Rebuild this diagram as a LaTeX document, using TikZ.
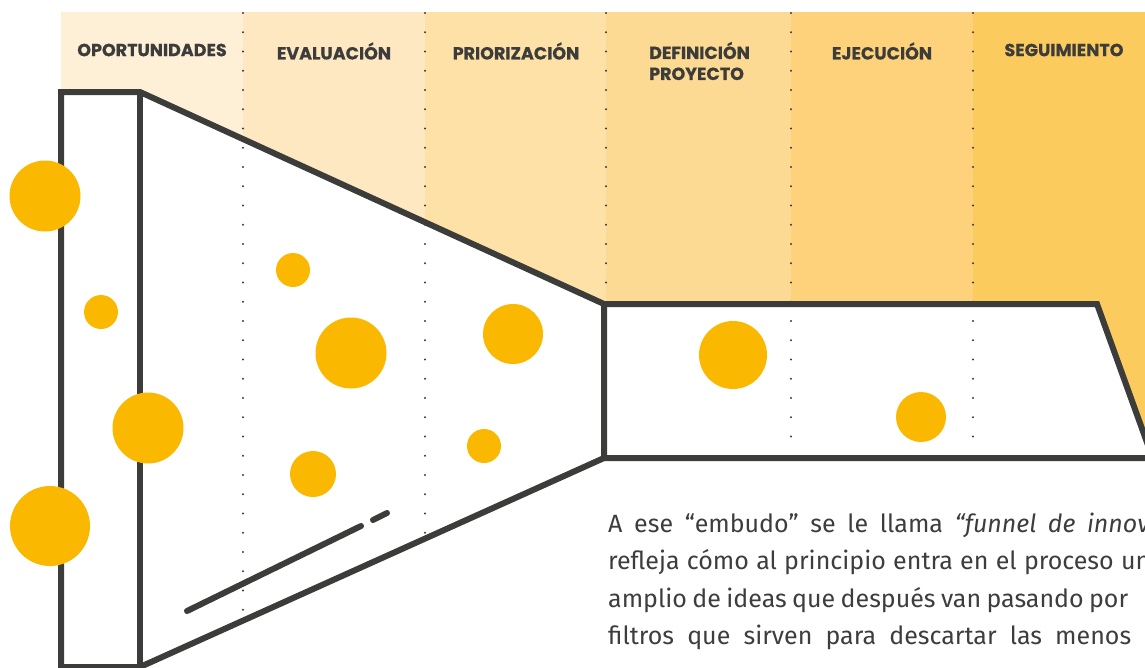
\documentclass[tikz,border=0pt]{standalone}
\usepackage{fontspec}
\setmainfont{Fira Sans}
\newfontfamily\headfont{Poppins}[BoldFeatures={FakeBold=0.6}]
\usetikzlibrary{positioning}
\definecolor{ink}{HTML}{3C3C3B}
\definecolor{textgray}{HTML}{3D3D3D}
\definecolor{idea}{HTML}{FAB800}
\definecolor{bandA}{HTML}{FEF0D7}
\definecolor{bandB}{HTML}{FEE8C1}
\definecolor{bandC}{HTML}{FEE1A7}
\definecolor{bandD}{HTML}{FDDA93}
\definecolor{bandE}{HTML}{FDD27B}
\definecolor{bandF}{HTML}{FCCB5E}
\tikzstyle{stage} = [font=\headfont\bfseries\fontsize{17.5}{21}\selectfont, text=ink, inner sep=0pt]
\tikzstyle{idea} = [circle, fill=idea, inner sep=0pt]
\tikzstyle{rim} = [draw=ink, line width=6pt]
\tikzstyle{dotrule} = [draw=ink, line width=2.4pt, line cap=round, dash pattern=on 0pt off 19.25pt]
\tikzstyle{para} = [anchor=base west, inner sep=0pt, text=textgray, font=\fontsize{25}{37}\selectfont]

\begin{document}
\begin{tikzpicture}[x=1pt, y=-1pt]
    \useasboundingbox (0,0) rectangle (1145,667);

    % coloured stages, only above the funnel
    \begin{scope}
        \clip (61,12) -- (61,92) -- (140,92) -- (604,304) -- (1097,304) -- (1165,495) -- (1165,12) -- cycle;
        \foreach \xa/\xb/\c in {61/243/bandA, 243/425/bandB, 425/606/bandC, 606/791/bandD, 791/973/bandE, 973/1165/bandF}
            \fill[\c] (\xa,12) rectangle (\xb,700);
    \end{scope}

    % dotted dividers
    \foreach \x/\e in {243/615, 425/535, 606/300, 791/455, 973/455}
        \draw[dotrule] (\x,13) -- (\x,\e);

    % funnel
    \draw[rim] (61,92) -- (140,92) -- (604,304) -- (604,458) -- (140,667) -- (61,667) -- cycle;
    \draw[rim] (140,92) -- (140,667);
    \draw[rim] (604,304) -- (1097,304) -- (1152.6,458) -- (604,458);
    \draw[rim, line cap=round] (187,611) -- (361,526);
    \draw[rim, line cap=round] (373,520) -- (387,513);

    % ideas
    \foreach \n/\x/\y/\d in {1/45/196/71, 2/101/312/34, 3/148/428/71, 4/50/526/80,
                             5/293/270/34, 6/351/353/71, 7/313/474/46, 8/513/334/60,
                             9/484/446/34, 10/733/355/68, 11/921/417/50}
        \node[idea, minimum size=\d pt] (idea\n) at (\x,\y) {};

    % stage titles
    \node[stage] (oport) at (152,50) {OPORTUNIDADES};
    \node[stage] (evalu) at (334,51) {EVALUACIÓN};
    \node[stage] (prior) at (516,51) {PRIORIZACIÓN};
    \node[stage, anchor=west, align=left] (defin) at (649,61) {DEFINICIÓN\\PROYECTO};
    \node[stage] (ejecu) at (882,51) {EJECUCIÓN};
    \node[stage] (segui) at (1064,50) {SEGUIMIENTO};

    % text
    \node[para] (line1) at (608,532) {\makebox[542pt][s]{A ese “embudo” se le llama \textit{“funnel de innov}}};
    \node[para] (line2) at (608,569) {\makebox[542pt][s]{refleja cómo al principio entra en el proceso un}};
    \node[para] (line3) at (608,607) {\makebox[520pt][s]{amplio de ideas que después van pasando por}};
    \node[para] (line4) at (608,644) {\makebox[523pt][s]{filtros que sirven para descartar las menos}};
\end{tikzpicture}
\end{document}
